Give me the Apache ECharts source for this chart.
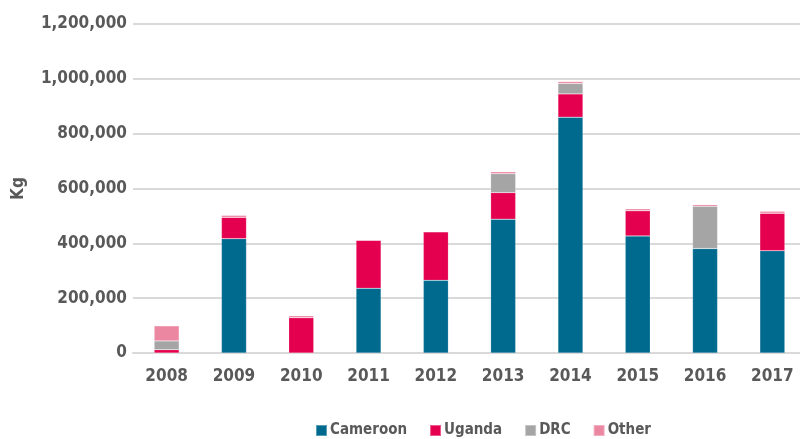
<!DOCTYPE html>
<html>
<head>
<meta charset="UTF-8">
<title>Kg by country</title>
<script src="https://cdn.jsdelivr.net/npm/echarts@6/dist/echarts.min.js"></script>
<style>
  html, body { margin: 0; padding: 0; background: #fff; }
  #chart { width: 800px; height: 439px; }
</style>
</head>
<body>
<div id="chart"></div>
<script>
// data (kg)
var years    = ['2008', '2009', '2010', '2011', '2012', '2013', '2014', '2015', '2016', '2017'];
var cameroon = [0, 417000, 0, 236000, 265000, 488000, 860000, 427000, 381000, 373000];
var uganda   = [12000, 78000, 129000, 175000, 177000, 97000, 85000, 92000, 0, 137000];
var drc      = [32000, 0, 0, 0, 0, 69000, 38000, 0, 154000, 0];
var other    = [55000, 7000, 7000, 2000, 0, 7000, 7000, 7000, 6000, 7000];

var font = '"DejaVu Sans Condensed", "Liberation Sans Narrow", sans-serif';
var grey = '#595959';

function makeSeries(name, data, color) {
  return {
    name: name,
    type: 'bar',
    stack: 'total',
    barWidth: 25,
    data: data,
    itemStyle: { color: color, borderColor: 'rgba(255,255,255,0.35)', borderWidth: 0.5 }
  };
}

var myChart = echarts.init(document.getElementById('chart'));
myChart.setOption({
  animation: false,
  textStyle: { fontFamily: font },
  grid: { left: 133, right: -6, top: 24, bottom: 86, outerBoundsMode: 'none' },
  legend: {
    top: 418,
    left: 310,
    itemWidth: 11,
    itemHeight: 11,
    itemGap: 22,
    icon: 'rect',
    textStyle: { fontFamily: font, fontSize: 15, color: grey, fontWeight: 'bold', padding: [0, 0, 0, -2] },
    data: ['Cameroon', 'Uganda', 'DRC', 'Other']
  },
  xAxis: {
    type: 'category',
    data: years,
    axisLine: { lineStyle: { color: '#d9d9d9', width: 2 } },
    axisTick: { show: false },
    axisLabel: { fontFamily: font, fontSize: 17, color: grey, fontWeight: 'bold', margin: 15, interval: 0 }
  },
  yAxis: {
    type: 'value',
    min: 0,
    max: 1200000,
    interval: 200000,
    name: 'Kg',
    nameLocation: 'middle',
    nameGap: 106,
    nameTextStyle: { fontFamily: font, fontSize: 17, color: grey, fontWeight: 'bold' },
    axisLine: { show: false },
    axisTick: { show: false },
    splitLine: { lineStyle: { color: '#d9d9d9', width: 2 } },
    axisLabel: {
      fontFamily: font, fontSize: 17, color: grey, fontWeight: 'bold', margin: 6,
      formatter: function (v) { return v.toLocaleString('en-US'); }
    }
  },
  series: [
    makeSeries('Cameroon', cameroon, '#006a8e'),
    makeSeries('Uganda', uganda, '#e4004f'),
    makeSeries('DRC', drc, '#a5a5a5'),
    makeSeries('Other', other, '#ec87a2')
  ]
});
</script>
</body>
</html>
